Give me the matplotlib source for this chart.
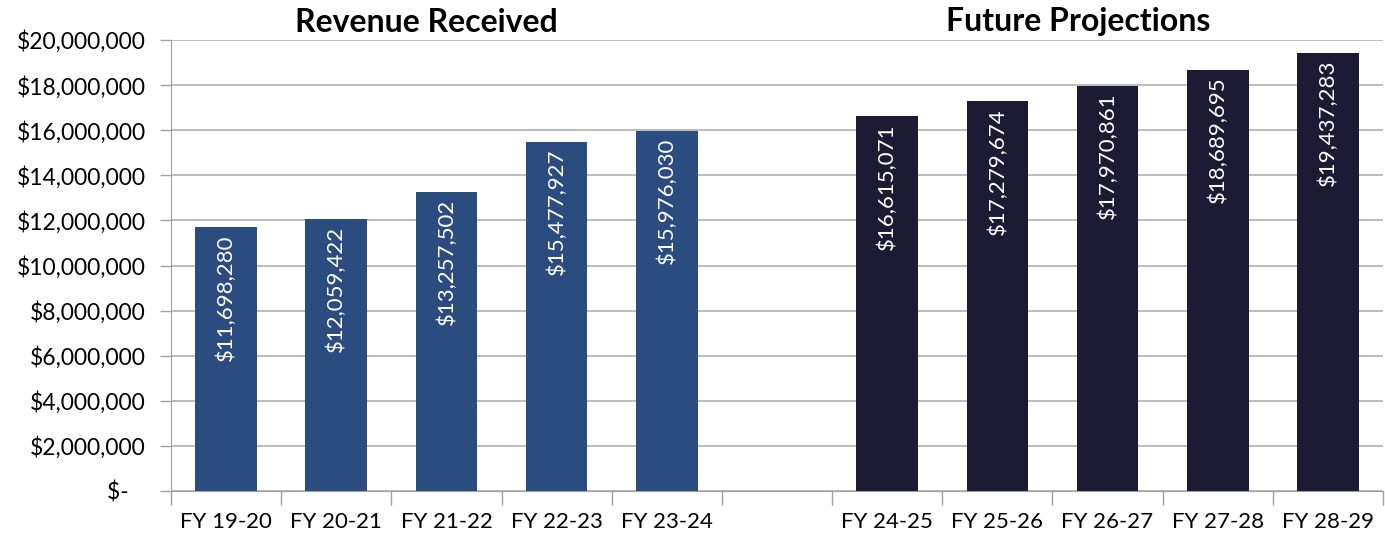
import matplotlib
matplotlib.use("Agg")
import matplotlib.pyplot as plt
import numpy as np
from matplotlib.ticker import FuncFormatter, MultipleLocator
from matplotlib.transforms import offset_copy

plt.rcParams['font.family'] = ['Lato', 'DejaVu Sans']

# dados
anos_recebidos = ["FY 19-20", "FY 20-21", "FY 21-22", "FY 22-23", "FY 23-24"]
receita = [11698280, 12059422, 13257502, 15477927, 15976030]
anos_futuros = ["FY 24-25", "FY 25-26", "FY 26-27", "FY 27-28", "FY 28-29"]
projecao = [16615071, 17279674, 17970861, 18689695, 19437283]

cor_receita = "#2B4C7E"
cor_futuro = "#1C1B33"

fig = plt.figure(figsize=(13.85, 5.36), dpi=100)
ax = fig.add_axes([171 / 1385, 45 / 536, 1212 / 1385, 451 / 536])

# posicoes: 5 barras, um espaco vazio, 5 barras
x1 = np.arange(len(receita))
x2 = np.arange(len(projecao)) + len(receita) + 1
largura = 0.56

ax.bar(x1, receita, width=largura, color=cor_receita, zorder=3)
ax.bar(x2, projecao, width=largura, color=cor_futuro, zorder=3)

# rotulos dentro da barra, no topo
trans = offset_copy(ax.transData, fig=fig, x=0, y=-7, units="dots")
for xs, vals in ((x1, receita), (x2, projecao)):
    for x, v in zip(xs, vals):
        ax.text(x, v, "${:,.0f}".format(v), rotation=90, color="white",
                fontsize=16, ha="center", va="top", transform=trans, zorder=4)

ax.set_xlim(-0.5, 10.5)
ax.set_ylim(0, 20000000)
ax.yaxis.set_major_locator(MultipleLocator(2000000))


def fmt_dolar(v, pos):
    if v == 0:
        return "$-   "
    return "${:,.0f}".format(v)


ax.yaxis.set_major_formatter(FuncFormatter(fmt_dolar))

ax.set_xticks(list(x1) + list(x2))
ax.set_xticklabels(anos_recebidos + anos_futuros)
ax.set_xticks(np.arange(-0.5, 11.0, 1.0), minor=True)
ax.tick_params(axis="x", which="major", length=0, pad=15, labelsize=16)
ax.tick_params(axis="x", which="minor", length=10, color="#A0A0A0", width=1)
ax.tick_params(axis="y", length=8, color="#A0A0A0", width=1, labelsize=16.5, pad=10)

ax.grid(axis="y", color="#B0B0B0", linewidth=1.2, zorder=0)
for lado in ("top", "right"):
    ax.spines[lado].set_visible(False)
ax.spines["left"].set_color("#A0A0A0")
ax.spines["bottom"].set_color("#A0A0A0")

fig.text(426 / 1385, 1 - 22 / 536, "Revenue Received", ha="center", va="center",
         fontsize=23, fontweight="bold")
fig.text(1078 / 1385, 1 - 22 / 536, "Future Projections", ha="center", va="center",
         fontsize=23, fontweight="bold")

fig.savefig("out.png", dpi=100)
